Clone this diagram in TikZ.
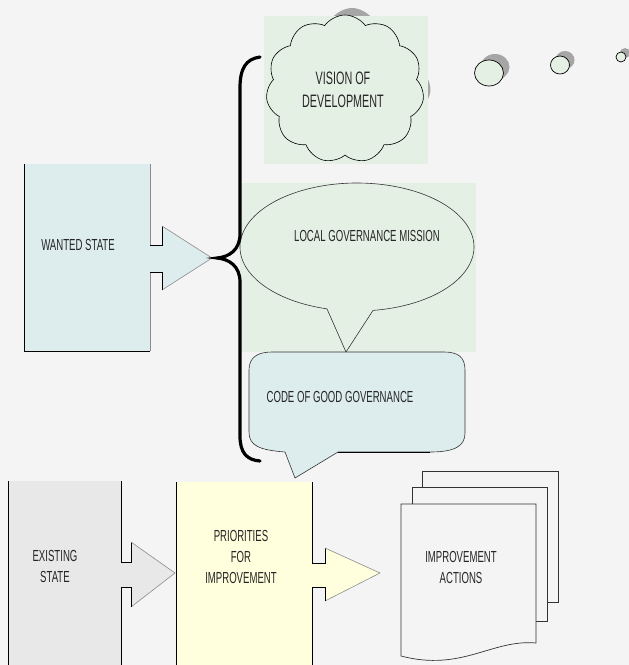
\documentclass[tikz,border=0pt]{standalone}
\usepackage{fontspec}
\setmainfont{Liberation Sans}[FakeStretch=0.6]
\usetikzlibrary{shapes.symbols,calc}
\definecolor{bg}{HTML}{F4F4F4}
\definecolor{cyanfill}{HTML}{DDEDED}
\definecolor{greenfill}{HTML}{E5F0E5}
\definecolor{greyfill}{HTML}{E8E8E8}
\definecolor{yellowfill}{HTML}{FFFFDD}
\definecolor{shadowgrey}{HTML}{A6A6A6}
\definecolor{txt}{HTML}{262626}
\definecolor{headline}{HTML}{8C8C8C}
\tikzset{
  lbl/.style={text=txt, align=center, inner sep=0pt, font=\fontsize{16}{21}\selectfont},
  edge/.style={black, line width=0.8pt},
  headedge/.style={headline, line width=0.6pt},
  outl/.style={black!80, line width=0.6pt},
  page/.style={draw=black!80, line width=0.7pt, fill=bg},
}
\begin{document}
\begin{tikzpicture}[x=1pt,y=-1pt]
\fill[bg] (0,0) rectangle (629,665);
\useasboundingbox (0,0) rectangle (629,665);

% ---------- WANTED STATE ----------
\fill[cyanfill] (24,164) rectangle (150,351);
\fill[cyanfill] (150,245) -- (162,245) -- (162,226) -- (212,258) -- (162,290) -- (162,272) -- (150,272) -- cycle;
\draw[edge] (24,164) -- (24,351) -- (150,351);
\draw[headedge] (150,164) -- (150,245) (150,272) -- (150,351);
\draw[edge] (150,245) -- (162,245) -- (162,226);
\draw[headedge] (162,226) -- (212,258) -- (162,290);
\draw[edge] (162,290) -- (162,272) -- (150,272);
\node[lbl] (wanted) at (78,245) {WANTED STATE};

% ---------- Thought bubbles ----------
\node[cloud, cloud puffs=11, cloud puff arc=110, aspect=1.08, fill=shadowgrey,
      minimum width=158pt, minimum height=148pt, inner sep=0pt] (visionshadow) at (352,82) {};
\fill[greenfill] (264,16) rectangle (428,164);
\node[cloud, cloud puffs=11, cloud puff arc=110, aspect=1.08, fill=greenfill, draw=black, line width=0.6pt,
      minimum width=158pt, minimum height=148pt, inner sep=0pt] (visioncloud) at (345,89) {};
\node[lbl, font=\fontsize{18}{23}\selectfont] (vision) at (343,90) {VISION OF\\DEVELOPMENT};

\fill[shadowgrey] (495,67) ellipse[x radius=14.5, y radius=13];
\draw[fill=greenfill, line width=0.7pt] (489,73) ellipse[x radius=14.5, y radius=13];
\fill[shadowgrey] (565,60) ellipse[x radius=9.5, y radius=9];
\draw[fill=greenfill, line width=0.7pt] (560,65) ellipse[x radius=9.5, y radius=9];
\fill[shadowgrey] (625,53) circle[radius=5];
\draw[fill=greenfill, line width=0.7pt] (621,57) circle[radius=5];

% ---------- Local governance mission ----------
\fill[greenfill] (240,183) rectangle (476,352);
\coordinate (lgmc) at (357,247);
\draw[outl, fill=greenfill] (346,352) -- ($(lgmc)+(104.86:117 and 64)$)
   arc[start angle=104.86, end angle=442.14, x radius=117, y radius=64] -- cycle;
\node[lbl] (lgm) at (367,236) {LOCAL GOVERNANCE MISSION};

% ---------- Code of good governance ----------
\draw[outl, fill=cyanfill] (295,478) -- (285,452)
   .. controls (260,450) and (249,446) .. (249,432) -- (249,370)
   .. controls (249,357) and (258,352) .. (272,352) -- (444,352)
   .. controls (458,352) and (465,357) .. (465,370) -- (465,433)
   .. controls (465,446) and (455,452) .. (430,452) -- (338,452) -- cycle;
\draw[edge] (338,452) -- (430,452);
\node[lbl] (code) at (340,397) {CODE OF GOOD GOVERNANCE};

% ---------- Brace ----------
\draw[black, line width=3.2pt, line cap=round]
  (260,57) .. controls (246,59) and (240,68) .. (240,88) -- (240,234)
  .. controls (240,250) and (229,257) .. (217,258)
  .. controls (229,259) and (240,266) .. (240,282) -- (240,436)
  .. controls (240,453) and (247,460) .. (260,461);

% ---------- EXISTING STATE ----------
\fill[greyfill] (8,481) rectangle (121,665);
\fill[greyfill] (121,562) -- (131,562) -- (131,542) -- (175,573) -- (131,607) -- (131,587) -- (121,587) -- cycle;
\draw[edge] (8,481) -- (8,665);
\draw[edge] (121,481) -- (121,562) (121,587) -- (121,665);
\draw[edge] (121,562) -- (131,562) -- (131,542);
\draw[headedge] (131,542) -- (175,573) -- (131,607);
\draw[edge] (131,607) -- (131,587) -- (121,587);
\node[lbl] (existing) at (55,566) {EXISTING\\STATE};

% ---------- PRIORITIES ----------
\fill[yellowfill] (176,482) rectangle (312,665);
\fill[yellowfill] (312,563) -- (325,563) -- (325,548) -- (380,573) -- (325,601) -- (325,587) -- (312,587) -- cycle;
\draw[edge] (176,482) -- (176,665);
\draw[edge] (312,482) -- (312,563) (312,587) -- (312,665);
\draw[edge] (312,563) -- (325,563) -- (325,548);
\draw[headedge] (325,548) -- (380,573) -- (325,601);
\draw[edge] (325,601) -- (325,587) -- (312,587);
\node[lbl] (priorities) at (241,557) {PRIORITIES\\FOR\\IMPROVEMENT};

% ---------- IMPROVEMENT ACTIONS (multi-document) ----------
\draw[page] (422,471) rectangle (558,602);
\draw[page] (412,487) rectangle (547,621);
\draw[page] (401,504) -- (536,504) -- (536,643)
   .. controls (492,639) and (462,672) .. (401,656) -- cycle;
\node[lbl] (actions) at (461,567) {IMPROVEMENT\\ACTIONS};
\end{tikzpicture}
\end{document}
